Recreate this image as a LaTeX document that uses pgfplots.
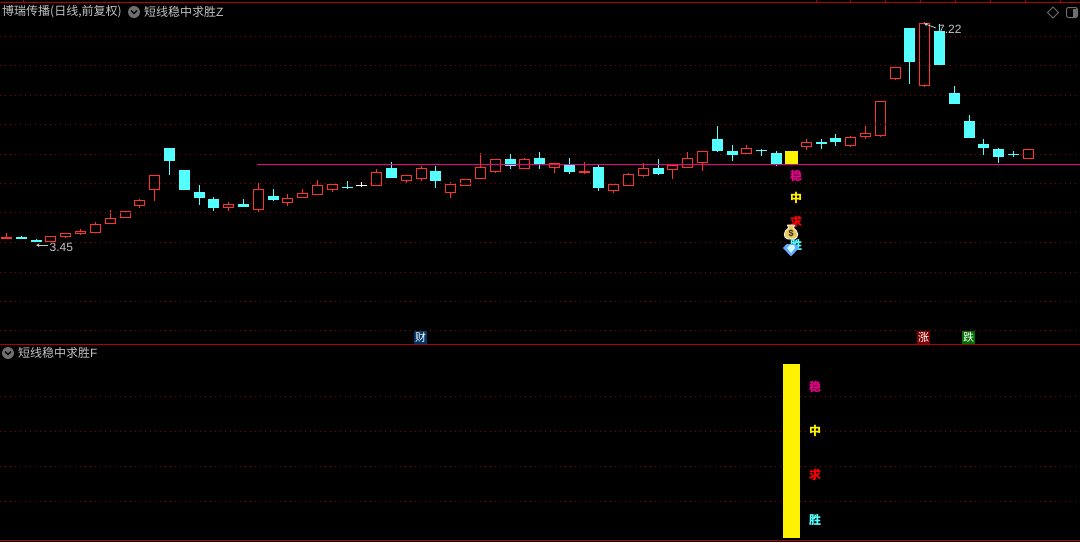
\documentclass[border=0pt]{standalone}
\usepackage{pgfplots}
\usepackage{pgfplotstable}
\usepackage{fontspec}
\usetikzlibrary{arrows.meta}
\pgfplotsset{compat=1.18}
\setmainfont{Noto Sans CJK SC}
\newfontfamily\latin{Liberation Sans}
\definecolor{upred}{HTML}{FF3232}
\definecolor{downcy}{HTML}{54FFFF}
\definecolor{panelred}{HTML}{B00000}
\definecolor{griddot}{HTML}{8C0000}
\definecolor{txtgray}{HTML}{C4C4C4}
\definecolor{icongray}{HTML}{6E6E6E}
\definecolor{bagold}{HTML}{E8C860}
% Values are read as pixel rows of the picture (smaller = higher price)
% hollow up candles
\pgfplotstableread{
x top bot hi lo
50.5 236 242 236 242
65.5 233 237 233 238
80.5 231 234 229 235
95.5 224 233 222 233
110.5 218 224 210 224
125.5 211 218 211 218
139.5 200 206 199 208
154.5 175 190 175 201
228.5 204 208 202 211
258.5 189 210 183 212
287.5 198 203 194 206
302.5 193 198 189 198
317.5 185 195 180 195
332.5 184 190 184 192
376.5 172 186 169 186
406.5 175 181 175 183
421.5 168 179 166 181
450.5 184 193 182 198
465.5 179 186 179 186
480.5 167 179 153 179
495.5 159 172 159 173
524.5 159 169 158 169
554.5 163 168 163 173
613.5 184 191 184 193
628.5 174 186 173 186
643.5 168 176 163 177
672.5 165 170 165 179
687.5 158 168 152 168
702.5 151 163 151 171
746.5 148 154 145 154
806.5 142 147 139 150
850.5 137 146 136 147
865.5 133 137 126 139
880.5 101 136 101 137
895.5 67 79 67 80
924.5 23 86 22 87
1028.5 149 159 149 159
}\upcandles
% filled down candles
\pgfplotstableread{
x top bot hi lo
21.5 237 239 236 239
36.5 240 242 238.7 242
169.5 148 161 148 175
184.5 170 190 170 190
199.5 192 198 185 205
213.5 199 208 197 211
243.5 204 207 199 207
273.5 196 200 189 201
391.5 168 178 162 178
435.5 171 181 166 188
510.5 159 166 154 169
539.5 158 164 152 169
569.5 165 172 158 174
598.5 167 188 165 191
658.5 168 174 159 175
717.5 139 151 126 152
732.5 151 155 145 161
776.5 153 164 151 166
821.5 142 144 139 149
835.5 138 142 134 146
909.5 28 62 28 84
939.5 31 65 24 65
954.5 93 104 86 104
969.5 121 138 115 138
983.5 144 148 139 155
998.5 149 157 148 163
}\downcandles
% doji candles: x, body row, high, low
\pgfplotstableread{
x y hi lo
6.5 237.5 233 237.5
584.5 172 162 174
}\redflat
\pgfplotstableread{
x y hi lo
347.5 187.5 181 189
761.5 150.5 149 156
1013.5 154.5 151 157
}\cyanflat
\pgfplotstableread{
x y hi lo
361.5 185.5 182 187
}\whiteflat
\pgfplotsset{
  panel/.style={
    scale only axis, width=1080pt, xmin=0, xmax=1080, y dir=reverse,
    axis line style={draw=none}, ticks=none,
    axis background/.style={fill=black},
    unbounded coords=jump,
  },
  vbar/.style n args={2}{draw=none, no markers, forget plot,
    error bars/.cd, y dir=plus, y explicit, error mark=none,
    error bar style={draw=#1, line width=#2}},
  hbar/.style n args={2}{draw=none, no markers, forget plot,
    error bars/.cd, x dir=both, x explicit, error mark=none,
    error bar style={draw=#1, line width=#2}},
  griddots/.style={griddot, line width=1pt, dash pattern=on 1pt off 4pt, forget plot},
}
\begin{document}
\begin{tikzpicture}
\path[use as bounding box] (0,0) rectangle (1080pt,542pt);
%% ---- upper panel ----
\begin{axis}[panel, name=main, at={(0,198pt)}, anchor=south west, height=344pt, ymin=0, ymax=344]
% red wicks and hollow bodies
\addplot[vbar={upred}{1pt}] table[x=x, y=hi, y error plus expr=\thisrow{lo}-\thisrow{hi}] {\upcandles};
\addplot[vbar={upred}{11pt}] table[x=x, y=top, y error plus expr=\thisrow{bot}-\thisrow{top}] {\upcandles};
\addplot[vbar={black}{9pt}] table[x=x, y expr=\thisrow{top}+1, y error plus expr=\thisrow{bot}-\thisrow{top}-2] {\upcandles};
% dotted grid
\addplot[griddots] coordinates {(0,36.5)(1080,36.5) (nan,nan) (0,65.5)(1080,65.5) (nan,nan) (0,95.5)(1080,95.5) (nan,nan) (0,124.5)(1080,124.5) (nan,nan) (0,154.5)(1080,154.5) (nan,nan) (0,183.5)(1080,183.5) (nan,nan) (0,212.5)(1080,212.5) (nan,nan) (0,242.5)(1080,242.5) (nan,nan) (0,272.5)(1080,272.5) (nan,nan) (0,301.5)(1080,301.5) (nan,nan) (0,330.5)(1080,330.5)};
% cyan candles
\addplot[vbar={downcy}{1pt}] table[x=x, y=hi, y error plus expr=\thisrow{lo}-\thisrow{hi}] {\downcandles};
\addplot[vbar={downcy}{11pt}] table[x=x, y=top, y error plus expr=\thisrow{bot}-\thisrow{top}] {\downcandles};
% doji candles
\addplot[vbar={upred}{1pt}] table[x=x, y=hi, y error plus expr=\thisrow{lo}-\thisrow{hi}] {\redflat};
\addplot[hbar={upred}{2pt}] table[x=x, y=y, x error plus expr=5.5, x error minus expr=5.5] {\redflat};
\addplot[vbar={downcy}{1pt}] table[x=x, y=hi, y error plus expr=\thisrow{lo}-\thisrow{hi}] {\cyanflat};
\addplot[hbar={downcy}{1pt}] table[x=x, y=y, x error plus expr=5.5, x error minus expr=5.5] {\cyanflat};
\addplot[vbar={white}{1pt}] table[x=x, y=hi, y error plus expr=\thisrow{lo}-\thisrow{hi}] {\whiteflat};
\addplot[hbar={white}{1pt}] table[x=x, y=y, x error plus expr=5.5, x error minus expr=5.5] {\whiteflat};
% yellow signal bar
\addplot[vbar={yellow}{13pt}] coordinates {(791.5,151) +- (0,13)};
% magenta support line
\addplot[magenta, line width=1pt, forget plot] coordinates {(257,164.5)(1080,164.5)};
% panel frame lines
\addplot[panelred, line width=1pt, forget plot] coordinates {(0,2.5)(1080,2.5)};
\addplot[panelred, line width=1pt, forget plot] coordinates {(23.5,0)(23.5,2) (nan,nan) (816.5,0)(816.5,2) (nan,nan) (850.5,0)(850.5,2) (nan,nan) (885.5,0)(885.5,2) (nan,nan) (920.5,0)(920.5,2) (nan,nan) (955.5,0)(955.5,2) (nan,nan) (990.5,0)(990.5,2) (nan,nan) (1025.5,0)(1025.5,2) (nan,nan) (1060.5,0)(1060.5,2)};
% title
\node[anchor=west, inner sep=0pt, text=txtgray, font=\fontsize{12pt}{14pt}\selectfont] at (axis cs:2,12) {博瑞传播(日线,前复权)};
\fill[icongray] (axis cs:134,12) circle (6pt);
\draw[black, line width=1.1pt] (axis cs:131,10.5) -- (axis cs:134,13.5) -- (axis cs:137,10.5);
\node[anchor=west, inner sep=0pt, text=txtgray, font=\fontsize{12pt}{14pt}\selectfont] at (axis cs:144,12) {短线稳中求胜{\latin Z}};
% top-right icons
\draw[icongray, line width=0.9pt] (axis cs:1053,7) -- (axis cs:1058.5,12.5) -- (axis cs:1053,18) -- (axis cs:1047.5,12.5) -- cycle;
\draw[icongray, line width=1pt, rounded corners=1.5pt] (axis cs:1066.5,7.5) rectangle (axis cs:1077.5,17.5);
\fill[icongray] (axis cs:1072.5,8.5) rectangle (axis cs:1076.5,16.5);
% min and max labels
\draw[txtgray, line width=0.8pt, -{Stealth[length=3.5pt,width=4pt,open]}] (axis cs:48,245.2) -- (axis cs:36,245.2);
\node[anchor=west, inner sep=0pt, text=txtgray, font=\fontsize{12pt}{14pt}\selectfont\latin] at (axis cs:49.5,247) {3.45};
\draw[txtgray, line width=0.8pt, -{Stealth[length=3.5pt,width=4pt,open]}] (axis cs:936,28) -- (axis cs:924,23.5);
\node[anchor=west, inner sep=0pt, text=txtgray, font=\fontsize{12pt}{14pt}\selectfont\latin] at (axis cs:938,29) {7.22};
% signal glyphs
\node[inner sep=0pt, text=magenta, font=\fontsize{12pt}{14pt}\selectfont\bfseries] at (axis cs:796,176) {稳};
\node[inner sep=0pt, text=yellow, font=\fontsize{12pt}{14pt}\selectfont\bfseries] at (axis cs:796,198) {中};
\node[inner sep=0pt, text=red, font=\fontsize{12pt}{14pt}\selectfont\bfseries] at (axis cs:796,221.5) {求};
\node[inner sep=0pt, text=downcy, font=\fontsize{12pt}{14pt}\selectfont\bfseries] at (axis cs:796,245) {胜};
% money bag
\fill[bagold, draw=white, line width=0.8pt] (axis cs:787.5,225) -- (axis cs:794.5,225) -- (axis cs:793.5,228) .. controls (axis cs:799,231) and (axis cs:799,238.5) .. (axis cs:794,239) -- (axis cs:788,239) .. controls (axis cs:783,238.5) and (axis cs:783,231) .. (axis cs:788.5,228) -- cycle;
\node[inner sep=0pt, text=black!70!brown, font=\fontsize{9pt}{10pt}\selectfont\bfseries\latin] at (axis cs:791,233.5) {\$};
% gem
\fill[downcy!55!blue!75!white] (axis cs:783,248) -- (axis cs:786.5,244) -- (axis cs:795.5,244) -- (axis cs:799,248) -- (axis cs:791,256.5) -- cycle;
\fill[white!70!downcy] (axis cs:787,248) -- (axis cs:790,245) -- (axis cs:794,245) -- (axis cs:795,248) -- (axis cs:791,253) -- cycle;
% boxed labels
\definecolor{boxnavy}{HTML}{003366}
\definecolor{boxred}{HTML}{800000}
\definecolor{boxgreen}{HTML}{007000}
\node[inner sep=0pt, minimum width=13pt, minimum height=13pt, fill=boxnavy, text=white, font=\fontsize{11pt}{12pt}\selectfont] at (axis cs:420.5,337) {财};
\node[inner sep=0pt, minimum width=13pt, minimum height=13pt, fill=boxred, text=white, font=\fontsize{11pt}{12pt}\selectfont] at (axis cs:923.5,337) {涨};
\node[inner sep=0pt, minimum width=13pt, minimum height=13pt, fill=boxgreen, text=white, font=\fontsize{11pt}{12pt}\selectfont] at (axis cs:968.5,337) {跌};
\end{axis}
%% ---- lower panel ----
\begin{axis}[panel, name=sub, at={(0,0)}, anchor=south west, height=198pt, ymin=344, ymax=542]
\addplot[griddots] coordinates {(0,396.5)(1080,396.5) (nan,nan) (0,431.5)(1080,431.5) (nan,nan) (0,466.5)(1080,466.5) (nan,nan) (0,501.5)(1080,501.5)};
\addplot[vbar={yellow}{17pt}] coordinates {(791.5,364) +- (0,174)};
\addplot[panelred, line width=1pt, forget plot] coordinates {(0,344.5)(1080,344.5)};
\addplot[panelred, line width=1pt, forget plot] coordinates {(0,540.5)(1080,540.5)};
\fill[icongray] (axis cs:8,353) circle (6pt);
\draw[black, line width=1.1pt] (axis cs:5,351.5) -- (axis cs:8,354.5) -- (axis cs:11,351.5);
\node[anchor=west, inner sep=0pt, text=txtgray, font=\fontsize{12pt}{14pt}\selectfont] at (axis cs:18,353) {短线稳中求胜{\latin F}};
\node[inner sep=0pt, text=magenta, font=\fontsize{12pt}{14pt}\selectfont\bfseries] at (axis cs:815,387) {稳};
\node[inner sep=0pt, text=yellow, font=\fontsize{12pt}{14pt}\selectfont\bfseries] at (axis cs:815,431) {中};
\node[inner sep=0pt, text=red, font=\fontsize{12pt}{14pt}\selectfont\bfseries] at (axis cs:815,475) {求};
\node[inner sep=0pt, text=downcy, font=\fontsize{12pt}{14pt}\selectfont\bfseries] at (axis cs:815,520) {胜};
\end{axis}
\end{tikzpicture}
\end{document}
